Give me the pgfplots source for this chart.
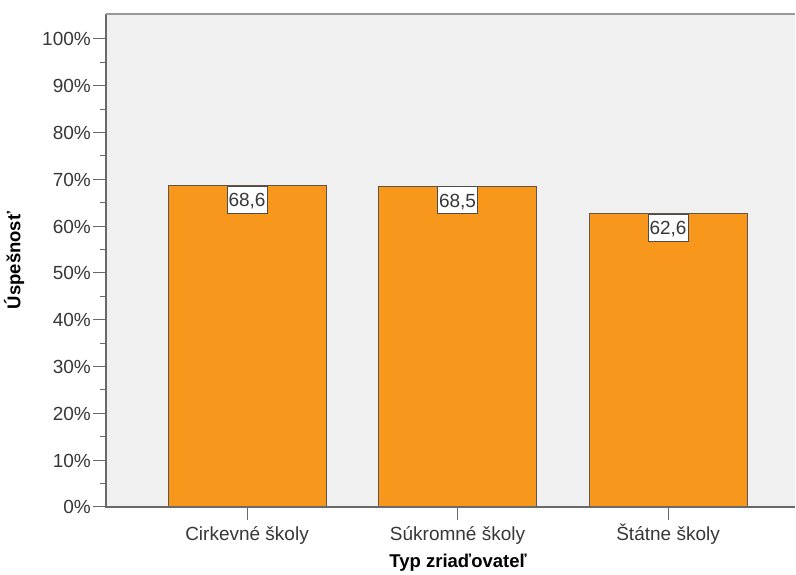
\documentclass[border=0pt]{standalone}
\usepackage{pgfplots}
\pgfplotsset{compat=1.18}
\usepackage{fontspec}
\setmainfont{Liberation Sans}
\definecolor{bg}{RGB}{240,240,240}
\definecolor{barfill}{RGB}{247,152,29}
\definecolor{baredge}{RGB}{95,85,75}
\definecolor{axisgray}{RGB}{105,105,105}
\definecolor{txt}{RGB}{55,55,55}
\begin{document}
\begin{tikzpicture}
\begin{axis}[
  scale only axis, width=689pt, height=493pt,
  xmin=-0.67, xmax=2.603, ymin=0, ymax=105.3,
  axis line style={draw=none},
  axis background/.style={fill=bg},
  tick pos=left,
  xtick=data,
  xticklabels={Cirkevné školy, Súkromné školy, Štátne školy},
  ytick={0,10,...,100}, minor y tick num=1,
  yticklabel={\pgfmathprintnumber{\tick}\%},
  /pgf/number format/assume math mode=true,
  tick align=outside, major tick length=13pt, minor tick length=6pt,
  every tick/.style={axisgray, line width=1pt},
  tick label style={font=\fontsize{19}{22}\selectfont, text=txt},
  yticklabel style={anchor=east, inner sep=0pt, text height=14pt, text depth=0pt, xshift=-2pt},
  xticklabel style={anchor=north, inner sep=0pt, text height=14pt, yshift=-6pt},
  ylabel={Úspešnosť},
  xlabel={Typ zriaďovateľ},
  every axis y label/.style={at={(axis description cs:-0.1335,0.5)}, rotate=90, anchor=center,
    font=\bfseries\fontsize{18.5}{22}\selectfont, text=black},
  every axis x label/.style={at={(axis description cs:0.511,-0.1136)}, anchor=center,
    font=\bfseries\fontsize{18.5}{22}\selectfont, text=black},
  clip=false,
]
\addplot[ybar, bar width=0.75, fill=barfill, draw=baredge, line width=0.9pt,
  nodes near coords={\pgfmathprintnumber[fixed, fixed zerofill, precision=1, use comma]{\pgfplotspointmeta}},
  every node near coord/.append style={anchor=north, fill=white, draw=black!70, line width=0.9pt,
    inner xsep=1.5pt, inner ysep=6.5pt, text height=14pt, text depth=0pt,
    font=\fontsize{19}{22}\selectfont, text=txt}
] coordinates {(0,68.6) (1,68.5) (2,62.6)};
\draw[axisgray, line width=1.2pt] (rel axis cs:0,1) -- (rel axis cs:0,0) -- (rel axis cs:1,0);
\draw[black!40, line width=2pt] (rel axis cs:0,1) -- (rel axis cs:1,1);
\end{axis}
\pgfresetboundingbox
\path (-106pt,-68pt) rectangle (690pt,507pt);
\end{tikzpicture}
\end{document}
